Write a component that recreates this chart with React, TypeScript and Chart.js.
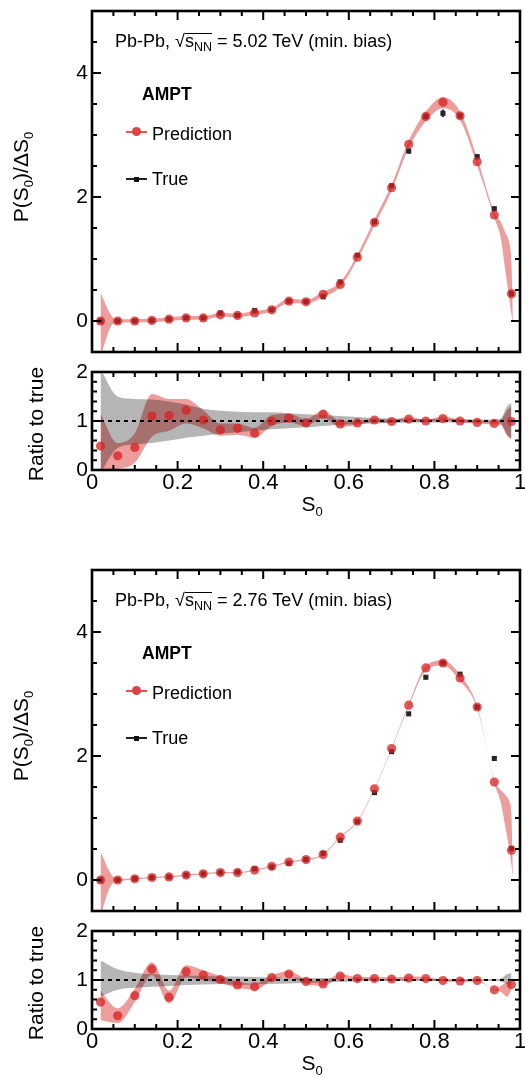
import React, { useEffect, useRef } from 'react';
import { Chart, registerables } from 'chart.js';

Chart.register(...registerables);

const FONT = '"Liberation Sans", Arial, Helvetica, sans-serif';

// ---------------- data ----------------
const S0 = [0.02, 0.06, 0.10, 0.14, 0.18, 0.22, 0.26, 0.30, 0.34, 0.38, 0.42, 0.46, 0.50,
  0.54, 0.58, 0.62, 0.66, 0.70, 0.74, 0.78, 0.82, 0.86, 0.90, 0.94, 0.98];

// 5.02 TeV
const PRED_502 = [0.0, 0.0, 0.0, 0.01, 0.03, 0.05, 0.05, 0.10, 0.09, 0.13, 0.18, 0.32, 0.31,
  0.43, 0.59, 1.03, 1.59, 2.15, 2.85, 3.30, 3.53, 3.31, 2.57, 1.71, 0.44];
const TRUE_502 = [0.0, 0.0, 0.0, 0.01, 0.03, 0.05, 0.05, 0.13, 0.09, 0.17, 0.18, 0.32, 0.31,
  0.39, 0.63, 1.06, 1.60, 2.18, 2.74, 3.30, 3.35, 3.31, 2.65, 1.81, 0.44];
const TRUE_ERR_502 = [0, 0, 0, 0, 0, 0, 0, 0.02, 0, 0.03, 0, 0, 0,
  0.02, 0.02, 0.02, 0.02, 0.03, 0.04, 0.03, 0.06, 0.03, 0.04, 0.04, 0.02];

// 2.76 TeV
const PRED_276 = [0.0, 0.0, 0.02, 0.04, 0.05, 0.08, 0.10, 0.12, 0.12, 0.16, 0.22, 0.29, 0.33,
  0.41, 0.69, 0.95, 1.47, 2.12, 2.82, 3.42, 3.50, 3.26, 2.79, 1.58, 0.48];
const TRUE_276 = [0.0, 0.0, 0.02, 0.04, 0.05, 0.08, 0.10, 0.12, 0.13, 0.18, 0.21, 0.27, 0.33,
  0.43, 0.64, 0.94, 1.41, 2.07, 2.68, 3.27, 3.50, 3.32, 2.79, 1.96, 0.51];
const TRUE_ERR_276 = [0, 0, 0, 0, 0, 0, 0, 0, 0, 0, 0, 0, 0,
  0, 0.02, 0.02, 0.02, 0.02, 0.02, 0.02, 0.02, 0.02, 0.02, 0.02, 0.02];

// prediction uncertainty band (main panels)
const BAND_X = [0.02, 0.03, 0.04, 0.05, 0.06, 0.10, 0.14, 0.18, 0.22, 0.26, 0.30, 0.34, 0.38,
  0.42, 0.46, 0.50, 0.54, 0.58, 0.62, 0.66, 0.70, 0.74, 0.78, 0.82, 0.86, 0.90, 0.94,
  0.955, 0.966, 0.975, 0.980, 0.984];
const BAND_HI_502 = [0.46, 0.30, 0.15, 0.05, 0.03, 0.03, 0.04, 0.06, 0.08, 0.08, 0.13, 0.12, 0.16,
  0.21, 0.36, 0.34, 0.47, 0.63, 1.07, 1.64, 2.20, 2.91, 3.38, 3.61, 3.38, 2.63, 1.76,
  1.60, 1.42, 1.26, 0.95, -0.05];
const BAND_LO_502 = [-0.60, -0.35, -0.15, -0.04, -0.03, -0.02, -0.02, 0.00, 0.02, 0.02, 0.07, 0.06, 0.10,
  0.15, 0.29, 0.28, 0.39, 0.55, 0.99, 1.54, 2.10, 2.79, 3.22, 3.43, 3.24, 2.51, 1.66,
  1.34, 0.80, 0.35, 0.11, -0.05];
const BAND_HI_276 = [0.46, 0.30, 0.15, 0.05, 0.02, 0.03, 0.05, 0.06, 0.09, 0.11, 0.13, 0.13, 0.17,
  0.23, 0.30, 0.34, 0.42, 0.70, 0.96, 1.48, 2.13, 2.84, 3.45, 3.54, 3.31, 2.81, 1.60,
  1.45, 1.37, 1.27, 1.05, 0.0];
const BAND_LO_276 = [-0.60, -0.35, -0.15, -0.04, -0.02, 0.01, 0.03, 0.04, 0.07, 0.09, 0.11, 0.11, 0.15,
  0.21, 0.28, 0.32, 0.40, 0.68, 0.94, 1.46, 2.11, 2.80, 3.38, 3.46, 3.21, 2.77, 1.56,
  1.25, 0.85, 0.50, 0.25, 0.0];

// ratio panels
const RATIO_502 = [0.49, 0.29, 0.46, 1.10, 1.11, 1.22, 1.02, 0.82, 0.85, 0.75, 1.00, 1.06, 0.96,
  1.14, 0.94, 0.96, 1.02, 0.99, 1.04, 1.00, 1.05, 1.00, 0.97, 0.95, 0.99];
const RATIO_276 = [0.55, 0.27, 0.68, 1.22, 0.65, 1.17, 1.10, 1.01, 0.90, 0.86, 1.05, 1.12, 0.97,
  0.92, 1.08, 1.03, 1.03, 1.02, 1.04, 1.03, 0.99, 0.98, 0.99, 0.80, 0.91];

const RBAND_X = [0.02, 0.06, 0.10, 0.14, 0.18, 0.22, 0.26, 0.30, 0.34, 0.38, 0.42, 0.46, 0.50,
  0.54, 0.58, 0.62, 0.66, 0.70, 0.74, 0.78, 0.82, 0.86, 0.90, 0.94, 0.955, 0.97, 0.98];

const RPRED_HI_502 = [1.15, 0.55, 0.75, 1.55, 1.45, 1.45, 1.22, 0.95, 0.95, 0.86, 1.12, 1.15, 1.04,
  1.22, 1.00, 1.00, 1.05, 1.02, 1.08, 1.03, 1.09, 1.03, 1.01, 0.99, 1.02, 1.22, 1.30];
const RPRED_LO_502 = [-0.05, 0.02, 0.15, 0.68, 0.80, 0.95, 0.85, 0.70, 0.72, 0.66, 0.90, 0.97, 0.90,
  1.06, 0.88, 0.92, 0.98, 0.96, 1.01, 0.97, 1.02, 0.97, 0.95, 0.93, 0.92, 0.70, 0.63];
const RTRUE_HI_502 = [2.05, 1.50, 1.45, 1.44, 1.40, 1.33, 1.25, 1.21, 1.19, 1.18, 1.18, 1.16, 1.14,
  1.12, 1.10, 1.08, 1.06, 1.05, 1.04, 1.04, 1.04, 1.04, 1.03, 1.03, 1.05, 1.30, 1.37];
const RTRUE_LO_502 = [-0.05, 0.45, 0.52, 0.55, 0.60, 0.66, 0.70, 0.74, 0.77, 0.80, 0.83, 0.85, 0.87,
  0.90, 0.92, 0.94, 0.95, 0.96, 0.97, 0.97, 0.97, 0.97, 0.97, 0.97, 0.95, 0.72, 0.64];

const RPRED_HI_276 = [0.78, 0.42, 0.82, 1.36, 0.78, 1.30, 1.20, 1.08, 0.97, 0.92, 1.10, 1.18, 1.02,
  0.97, 1.12, 1.06, 1.06, 1.05, 1.07, 1.06, 1.01, 1.00, 1.01, 0.81, 0.88, 0.96, 0.97];
const RPRED_LO_276 = [0.18, 0.12, 0.55, 1.10, 0.52, 1.05, 1.00, 0.94, 0.84, 0.80, 0.99, 1.06, 0.92,
  0.88, 1.04, 1.00, 1.00, 0.99, 1.01, 1.00, 0.97, 0.96, 0.97, 0.79, 0.76, 0.66, 0.80];
const RTRUE_HI_276 = [1.40, 1.22, 1.15, 1.12, 1.10, 1.09, 1.08, 1.07, 1.07, 1.06, 1.05, 1.05, 1.04,
  1.04, 1.03, 1.03, 1.02, 1.02, 1.02, 1.02, 1.02, 1.02, 1.02, 1.02, 1.03, 1.12, 1.15];
const RTRUE_LO_276 = [0.66, 0.80, 0.84, 0.86, 0.88, 0.90, 0.91, 0.92, 0.90, 0.91, 0.92, 0.93, 0.94,
  0.95, 0.96, 0.97, 0.98, 0.98, 0.98, 0.98, 0.98, 0.98, 0.98, 0.98, 0.97, 0.92, 0.88];

const MAIN_Y_TICKS = [0, 2, 4];
const RATIO_Y_TICKS = [0, 1, 2];
const X_TICKS = [0, 0.2, 0.4, 0.6, 0.8, 1];
const X_TICK_LABELS = ['0', '0.2', '0.4', '0.6', '0.8', '1'];
const REF_LINE = 1;

// ---------------- styles ----------------
const C_POINT = 'rgba(214,32,32,0.75)';
const C_BAND = 'rgba(222,60,60,0.5)';
const C_GRAY = 'rgba(0,0,0,0.29)';
const C_TRUE = '#262626';

const CANVAS_W = 545;

const pts = (xs: number[], ys: number[]) => xs.map((x, i) => ({ x, y: ys[i] }));

function framePlugin(yMinor: number, yMajor: number) {
  return {
    id: 'frame',
    afterDatasetsDraw(chart: any) {
      const { ctx, chartArea: a } = chart;
      const xs = chart.scales.x;
      const ys = chart.scales.y;
      ctx.save();
      ctx.strokeStyle = '#000';
      ctx.lineWidth = 2;
      ctx.beginPath();
      for (let i = 0; i <= 20; i++) {
        const px = xs.getPixelForValue(i * 0.05);
        const L = i % 4 === 0 ? 9 : 5;
        ctx.moveTo(px, a.bottom);
        ctx.lineTo(px, a.bottom - L);
        ctx.moveTo(px, a.top);
        ctx.lineTo(px, a.top + L);
      }
      const n = Math.round((ys.max - ys.min) / yMinor);
      for (let i = 0; i <= n; i++) {
        const v = ys.min + i * yMinor;
        const r = v / yMajor;
        const major = Math.abs(r - Math.round(r)) < 1e-6;
        const py = ys.getPixelForValue(v);
        const L = major ? 9 : 5;
        ctx.moveTo(a.left, py);
        ctx.lineTo(a.left + L, py);
        ctx.moveTo(a.right, py);
        ctx.lineTo(a.right - L, py);
      }
      ctx.stroke();
      ctx.lineWidth = 2.6;
      ctx.strokeRect(a.left, a.top, a.right - a.left, a.bottom - a.top);
      ctx.restore();
    },
  };
}

const errorBarPlugin = {
  id: 'errbars',
  beforeDatasetsDraw(chart: any) {
    const { ctx } = chart;
    const ys = chart.scales.y;
    chart.data.datasets.forEach((ds: any, di: number) => {
      if (!ds.errors) return;
      const meta = chart.getDatasetMeta(di);
      ctx.save();
      ctx.strokeStyle = C_TRUE;
      ctx.lineWidth = 2;
      meta.data.forEach((el: any, i: number) => {
        const e = ds.errors[i];
        if (!e) return;
        const v = ds.data[i].y;
        ctx.beginPath();
        ctx.moveTo(el.x, ys.getPixelForValue(v + e));
        ctx.lineTo(el.x, ys.getPixelForValue(v - e));
        ctx.stroke();
      });
      ctx.restore();
    });
  },
};

function bandPair(xs: number[], hi: number[], lo: number[], color: string, order: number) {
  const common = {
    pointRadius: 0,
    borderWidth: 0,
    borderColor: 'transparent',
    cubicInterpolationMode: 'monotone',
  };
  return [
    { ...common, label: 'hi', data: pts(xs, hi), fill: false, order: order + 1 },
    { ...common, label: 'lo', data: pts(xs, lo), fill: '-1', backgroundColor: color, order },
  ];
}

function predPoints(ys: number[]) {
  return {
    label: 'Prediction',
    data: pts(S0, ys),
    showLine: false,
    pointRadius: 4.6,
    pointBackgroundColor: C_POINT,
    pointBorderWidth: 0,
    borderColor: 'transparent',
    order: 0,
  };
}

function mainDatasets(pred: number[], tru: number[], err: number[], hi: number[], lo: number[]) {
  return [
    predPoints(pred),
    {
      label: 'True',
      data: pts(S0, tru),
      errors: err,
      showLine: false,
      pointStyle: 'rect',
      pointRadius: 3.6,
      pointBackgroundColor: C_TRUE,
      pointBorderWidth: 0,
      borderColor: 'transparent',
      order: 1,
    },
    ...bandPair(BAND_X, hi, lo, C_BAND, 2),
  ];
}

function ratioDatasets(ratio: number[], pHi: number[], pLo: number[], tHi: number[], tLo: number[]) {
  return [
    predPoints(ratio),
    {
      label: 'ref',
      data: [{ x: 0, y: REF_LINE }, { x: 1, y: REF_LINE }],
      pointRadius: 0,
      borderColor: '#000',
      borderWidth: 2,
      borderDash: [4, 4],
      fill: false,
      order: 1,
    },
    ...bandPair(RBAND_X, tHi, tLo, C_GRAY, 2),
    ...bandPair(RBAND_X, pHi, pLo, C_BAND, 4),
  ];
}

function makeConfig(kind: 'main' | 'ratio', datasets: any[]) {
  const main = kind === 'main';
  return {
    type: 'line',
    data: { datasets },
    options: {
      animation: false,
      responsive: false,
      events: [],
      layout: { padding: { left: 0, right: CANVAS_W - 520, top: 20, bottom: main ? 20 : 0 } },
      plugins: { legend: { display: false }, tooltip: { enabled: false } },
      scales: {
        x: {
          type: 'linear',
          min: 0,
          max: 1,
          grid: { display: false, drawTicks: false },
          border: { display: false },
          ticks: {
            display: !main,
            autoSkip: false,
            maxRotation: 0,
            padding: 0,
            color: '#000',
            font: { family: FONT, size: 22 },
            callback: (_v: any, i: number) => X_TICK_LABELS[i],
          },
          afterBuildTicks: (s: any) => {
            s.ticks = X_TICKS.map((v) => ({ value: v }));
          },
          afterFit: (s: any) => {
            s.height = main ? 0 : 45;
          },
        },
        y: {
          type: 'linear',
          min: main ? -0.5 : 0,
          max: main ? 5 : 2,
          grid: { display: false, drawTicks: false },
          border: { display: false },
          ticks: {
            autoSkip: false,
            padding: 4,
            color: '#000',
            font: { family: FONT, size: 21 },
            callback: (v: any) => String(v),
          },
          afterBuildTicks: (s: any) => {
            s.ticks = (main ? MAIN_Y_TICKS : RATIO_Y_TICKS).map((v) => ({ value: v }));
          },
          afterFit: (s: any) => {
            s.width = 92;
          },
        },
      },
    },
    plugins: [main ? framePlugin(0.5, 2) : framePlugin(0.2, 1), errorBarPlugin],
  };
}

function Panel({ areaTop, areaBottom, kind, datasets }: any) {
  const ref = useRef<HTMLCanvasElement | null>(null);
  const top = areaTop - 20;
  const height = areaBottom - top + (kind === 'main' ? 20 : 45);
  useEffect(() => {
    const chart = new Chart(ref.current as any, makeConfig(kind, datasets) as any);
    return () => chart.destroy();
  }, []);
  return (
    <canvas
      ref={ref}
      width={CANVAS_W}
      height={height}
      style={{ position: 'absolute', left: 0, top, width: CANVAS_W, height }}
    />
  );
}

const abs = (extra: any) => ({ position: 'absolute' as const, whiteSpace: 'nowrap' as const, ...extra });

function Header({ off, energy }: { off: number; energy: string }) {
  return (
    <div style={abs({ left: 115, top: 30.5 + off, fontSize: 18, lineHeight: '20px' })}>
      Pb-Pb, √
      <span style={{ display: 'inline-block', borderTop: '1.2px solid #000', lineHeight: '15px' }}>
        s<span style={{ fontSize: 12.5, position: 'relative', top: 4 }}>NN</span>
      </span>
      {' = ' + energy + ' TeV (min. bias)'}
    </div>
  );
}

function Legend({ off }: { off: number }) {
  return (
    <>
      <div style={abs({ left: 142, top: 83.9 + off, fontSize: 17.5, fontWeight: 'bold', lineHeight: '20px' })}>AMPT</div>
      <div style={abs({ left: 126, top: 130.7 + off, width: 21, height: 2, background: 'rgb(226,86,86)' })} />
      <div style={abs({ left: 132, top: 127.2 + off, width: 9, height: 9, borderRadius: '50%', background: 'rgb(222,66,66)' })} />
      <div style={abs({ left: 152, top: 123.8 + off, fontSize: 18, lineHeight: '20px' })}>Prediction</div>
      <div style={abs({ left: 126, top: 178.2 + off, width: 21, height: 1.6, background: '#222' })} />
      <div style={abs({ left: 134, top: 176.5 + off, width: 5, height: 5, background: '#111' })} />
      <div style={abs({ left: 152, top: 168.8 + off, fontSize: 18, lineHeight: '20px' })}>True</div>
    </>
  );
}

function RotTitle({ cx, cy, children }: any) {
  const W = 220;
  const H = 24;
  return (
    <div
      style={abs({
        left: cx - W / 2,
        top: cy - H / 2,
        width: W,
        height: H,
        lineHeight: H + 'px',
        fontSize: 21,
        textAlign: 'center',
        transform: 'rotate(-90deg)',
      })}
    >
      {children}
    </div>
  );
}

const sub = (t: string) => (
  <span style={{ fontSize: 13, position: 'relative', top: 5 }}>{t}</span>
);

function Texts({ off, energy }: { off: number; energy: string }) {
  return (
    <>
      <Header off={off} energy={energy} />
      <Legend off={off} />
      <RotTitle cx={21} cy={177 + off}>
        P(S{sub('0')})/ΔS{sub('0')}
      </RotTitle>
      <RotTitle cx={36} cy={423.5 + off}>Ratio to true</RotTitle>
      <div style={abs({ left: 301.5, top: 492.4 + off, fontSize: 21, lineHeight: '24px' })}>
        S{sub('0')}
      </div>
    </>
  );
}

export default function App() {
  const OFF = 559;
  return (
    <div
      style={{
        position: 'absolute',
        left: 0,
        top: 0,
        width: 525,
        height: 1078,
        overflow: 'hidden',
        background: '#fff',
        fontFamily: FONT,
        color: '#000',
      }}
    >
      <Panel areaTop={11} areaBottom={352} kind="main"
        datasets={mainDatasets(PRED_502, TRUE_502, TRUE_ERR_502, BAND_HI_502, BAND_LO_502)} />
      <Panel areaTop={372} areaBottom={470} kind="ratio"
        datasets={ratioDatasets(RATIO_502, RPRED_HI_502, RPRED_LO_502, RTRUE_HI_502, RTRUE_LO_502)} />
      <Panel areaTop={11 + OFF} areaBottom={352 + OFF} kind="main"
        datasets={mainDatasets(PRED_276, TRUE_276, TRUE_ERR_276, BAND_HI_276, BAND_LO_276)} />
      <Panel areaTop={372 + OFF} areaBottom={470 + OFF} kind="ratio"
        datasets={ratioDatasets(RATIO_276, RPRED_HI_276, RPRED_LO_276, RTRUE_HI_276, RTRUE_LO_276)} />
      <Texts off={0} energy="5.02" />
      <Texts off={OFF} energy="2.76" />
    </div>
  );
}
